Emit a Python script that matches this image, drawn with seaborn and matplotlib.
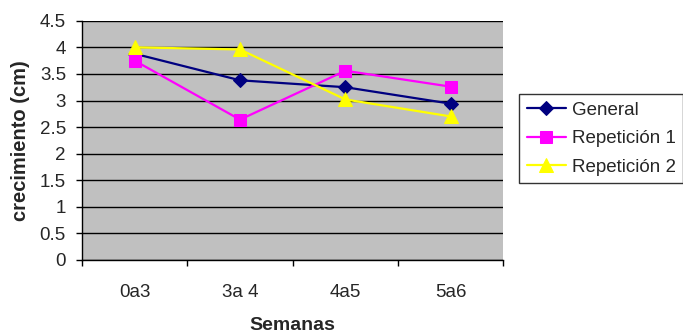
import pandas as pd
import matplotlib
matplotlib.use('Agg')
import matplotlib.pyplot as plt
import seaborn as sns
from matplotlib.ticker import FuncFormatter, FixedLocator

# ============ DataSet ============
semanas = ['0a3', '3a 4', '4a5', '5a6']
general = [3.88, 3.38, 3.25, 2.94]
repeticion_1 = [3.75, 2.64, 3.56, 3.26]
repeticion_2 = [4.0, 3.96, 3.02, 2.70]
series_names = ['General', 'Repetición 1', 'Repetición 2']

df = pd.DataFrame({
    'Semanas': semanas * 3,
    'crecimiento': general + repeticion_1 + repeticion_2,
    'Serie': [n for n in series_names for _ in semanas],
})

# ============ Style ============
sns.set_style('white')
plt.rcParams['font.family'] = ['Liberation Sans', 'DejaVu Sans']
plt.rcParams['font.size'] = 13.5

colors = {'General': '#000080', 'Repetición 1': '#FF00FF', 'Repetición 2': '#FFFF00'}
markers = {'General': 'D', 'Repetición 1': 's', 'Repetición 2': '^'}
sizes = {'General': 7, 'Repetición 1': 9, 'Repetición 2': 10}

fig = plt.figure(figsize=(6.83, 3.35), dpi=100)
ax = fig.add_axes([0.120, 0.224, 0.617, 0.714])
ax.set_facecolor('#C0C0C0')

for name in series_names:
    sub = df[df['Serie'] == name]
    sns.lineplot(data=sub, x='Semanas', y='crecimiento', ax=ax, color=colors[name],
                 marker=markers[name], markersize=sizes[name], markeredgecolor=colors[name],
                 linewidth=1.6, label=name, sort=False)

# ============ Axes ============
ax.set_xlim(-0.5, 3.5)
ax.set_ylim(0, 4.5)
ax.set_yticks([i * 0.5 for i in range(10)])
ax.yaxis.set_major_formatter(FuncFormatter(lambda v, p: f'{v:g}'))
ax.grid(axis='y', color='black', linewidth=1)
ax.set_axisbelow(True)

ax.set_xticks(range(len(semanas)))
ax.set_xticklabels(semanas)
ax.xaxis.set_minor_locator(FixedLocator([-0.5, 0.5, 1.5, 2.5, 3.5]))
ax.tick_params(axis='x', which='major', length=0, pad=17, labelsize=13.5)
ax.tick_params(axis='x', which='minor', length=4.5, width=1, color='black', direction='out', bottom=True)
ax.tick_params(axis='y', length=4.5, width=1, color='black', direction='out', left=True, labelsize=13.5, pad=7)

for side in ['top', 'right']:
    ax.spines[side].set_visible(False)
for side in ['left', 'bottom']:
    ax.spines[side].set_color('black')
    ax.spines[side].set_linewidth(1)

ax.set_xlabel('Semanas', fontsize=14, fontweight='bold', labelpad=11.5)
ax.set_ylabel('crecimiento (cm)', fontsize=14.5, fontweight='bold', labelpad=7)

leg = ax.legend(loc='upper left', bbox_to_anchor=(0.760, 0.719), bbox_transform=fig.transFigure,
                frameon=True, fancybox=False, borderaxespad=0, fontsize=13.5,
                handlelength=2.1, handletextpad=0.3, borderpad=0.4, labelspacing=0.6)
leg.get_frame().set_edgecolor('black')
leg.get_frame().set_linewidth(1)

fig.savefig('out.png', dpi=100)
